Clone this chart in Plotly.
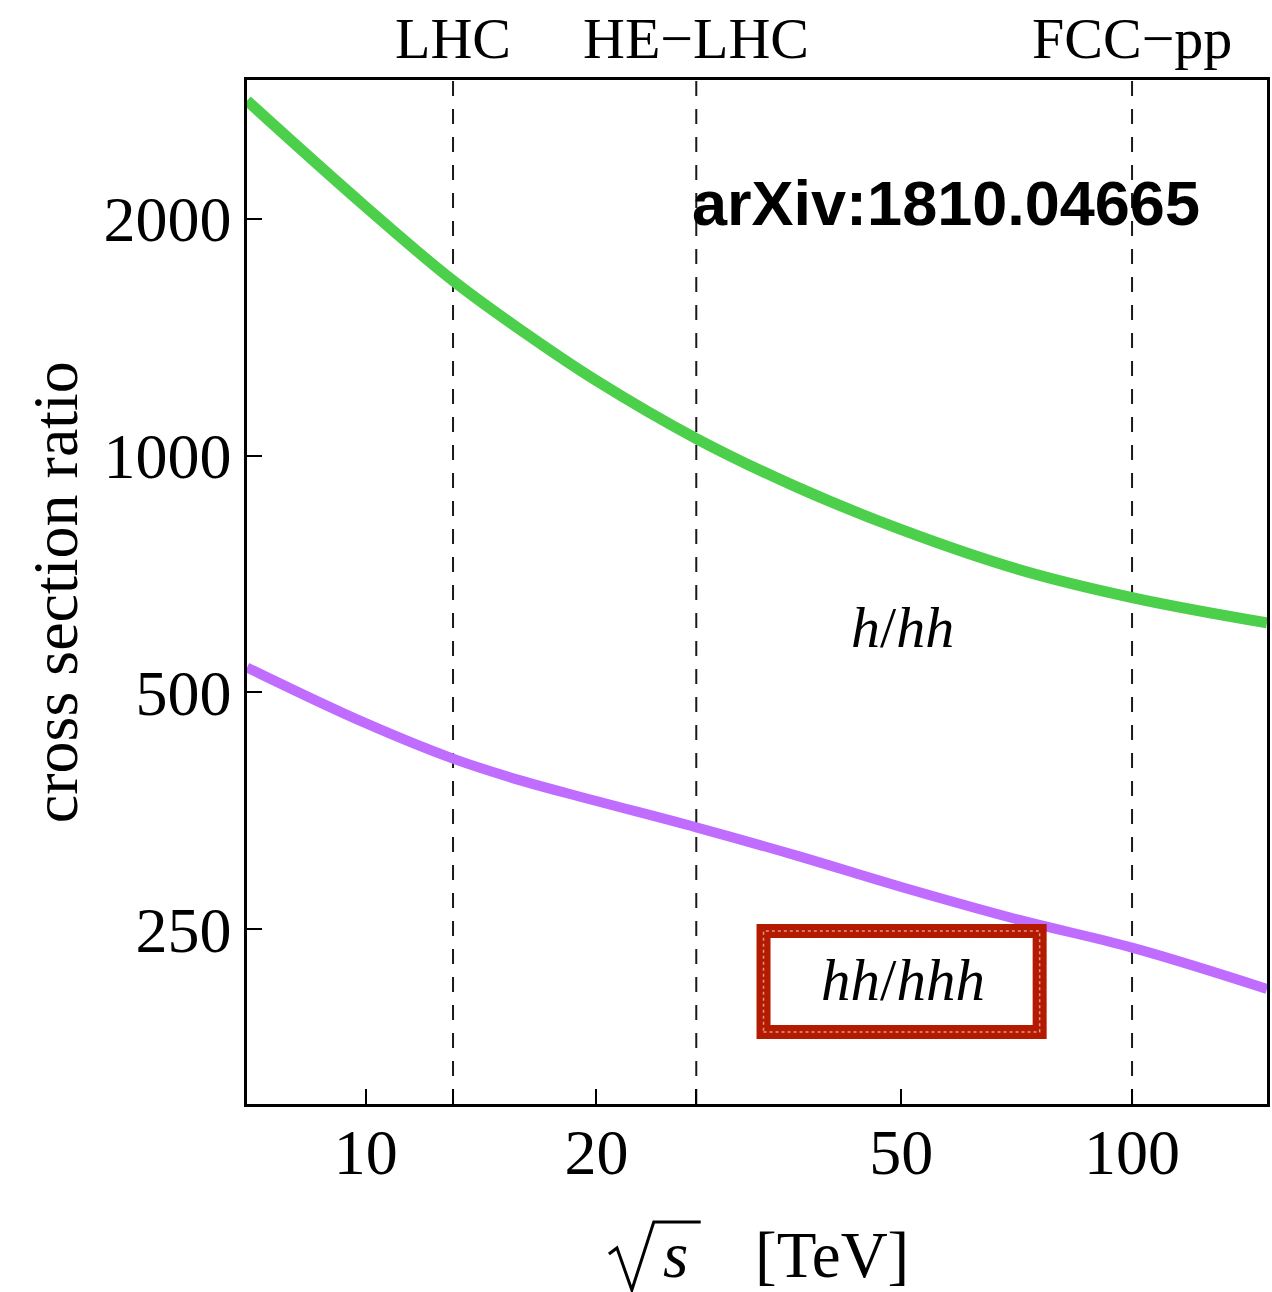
import numpy as np
import plotly.graph_objects as go

# data
energy_tev = [7, 10, 13, 16, 20, 27, 36.6, 50, 71.3, 100, 150]
ratio_h_hh = [2824, 2070, 1668, 1440, 1245, 1051, 911, 805, 716, 660, 613]
ratio_hh_hhh = [538, 457, 412, 386, 364, 337, 310, 283, 257, 237, 210]

colliders = ["LHC", "HE\u2212LHC", "FCC\u2212pp"]
collider_energy = [13, 27, 100]

x_tickvals = [10, 13, 20, 27, 50, 100]
x_ticktext = ["10", "", "20", "", "50", "100"]
y_tickvals = [250, 500, 1000, 2000]
y_ticktext = ["250", "500", "1000", "2000"]

x_range = [7, 150]
y_range = [150, 3000]

SERIF = "Liberation Serif"
SANS = "Liberation Sans"

fig = go.Figure()
fig.add_trace(go.Scatter(x=energy_tev, y=ratio_h_hh, mode="lines",
                         line=dict(color="#4ccf4a", width=11, shape="spline", smoothing=1.1),
                         showlegend=False, hoverinfo="skip"))
fig.add_trace(go.Scatter(x=energy_tev, y=ratio_hh_hhh, mode="lines",
                         line=dict(color="#bf6cff", width=10, shape="spline", smoothing=1.1),
                         showlegend=False, hoverinfo="skip"))

# vertical dashed collider lines + labels
for name, e in zip(colliders, collider_energy):
    fig.add_shape(type="line", xref="x", yref="paper", x0=e, x1=e, y0=0, y1=1,
                  line=dict(color="#1a1a1a", width=2, dash="15px,13px"), layer="below")
    fig.add_annotation(x=np.log10(e), xref="x", y=1.041, yref="paper", text=name,
                       showarrow=False, font=dict(family=SERIF, size=58, color="black"),
                       xanchor="center", yanchor="middle")

# rough red box around hh/hhh label
fig.add_shape(type="rect", xref="paper", yref="paper",
              x0=0.5064, x1=0.7771, y0=0.0703, y1=0.169,
              line=dict(color="#b31a00", width=14))
fig.add_shape(type="rect", xref="paper", yref="paper",
              x0=0.5064, x1=0.7771, y0=0.0703, y1=0.169,
              line=dict(color="rgba(255,255,255,0.55)", width=1.5, dash="dot"))

fig.add_annotation(x=0.643, y=0.465, xref="paper", yref="paper", text="<i>h</i>/<i>hh</i>",
                   showarrow=False, xanchor="center", yanchor="middle",
                   font=dict(family=SERIF, size=58, color="black"))
fig.add_annotation(x=0.643, y=0.121, xref="paper", yref="paper", text="<i>hh</i>/<i>hhh</i>",
                   showarrow=False, xanchor="center", yanchor="middle",
                   font=dict(family=SERIF, size=59, color="black"))
fig.add_annotation(x=0.685, y=0.880, xref="paper", yref="paper", text="<b>arXiv:1810.04665</b>",
                   showarrow=False, xanchor="center", yanchor="middle",
                   font=dict(family=SANS, size=63, color="black"))

# y axis title
fig.add_annotation(x=-0.188, y=0.5, xref="paper", yref="paper", text="cross section ratio",
                   textangle=-90, showarrow=False, xanchor="center", yanchor="middle",
                   font=dict(family=SERIF, size=64, color="black"))
# x axis title: TeX-style radical sign, then s and [TeV]
fig.add_shape(type="path", xref="paper", yref="paper",
              path="M 0.3548,-0.1465 L 0.3627,-0.1406 L 0.3773,-0.1816 L 0.3988,-0.1152 L 0.4448,-0.1152",
              line=dict(color="black", width=3))
fig.add_annotation(x=0.4203, y=-0.1475, xref="paper", yref="paper", text="<i>s</i>",
                   showarrow=False, xanchor="center", yanchor="middle",
                   font=dict(family=SERIF, size=65, color="black"))
fig.add_annotation(x=0.5733, y=-0.1475, xref="paper", yref="paper", text="[TeV]",
                   showarrow=False, xanchor="center", yanchor="middle",
                   font=dict(family=SERIF, size=65, color="black"))

fig.update_layout(
    width=1272, height=1292,
    margin=dict(l=247, r=2, t=80, b=188),
    paper_bgcolor="white", plot_bgcolor="white",
)
fig.update_xaxes(type="log", range=[np.log10(x_range[0]), np.log10(x_range[1])],
                 tickvals=x_tickvals, ticktext=x_ticktext,
                 ticks="inside", ticklen=15, tickwidth=2, tickcolor="black",
                 showline=True, linecolor="black", linewidth=2.5, mirror=True,
                 showgrid=False, zeroline=False,
                 tickfont=dict(family=SERIF, size=64, color="black"),
                 ticklabelstandoff=-10)
fig.update_yaxes(type="log", range=[np.log10(y_range[0]), np.log10(y_range[1])],
                 tickvals=y_tickvals, ticktext=y_ticktext,
                 ticks="inside", ticklen=15, tickwidth=2, tickcolor="black",
                 showline=True, linecolor="black", linewidth=2.5, mirror=True,
                 showgrid=False, zeroline=False,
                 tickfont=dict(family=SERIF, size=64, color="black"),
                 ticklabelstandoff=0)

fig.write_html("out.html", config={"displayModeBar": False},
               post_script="document.body.style.margin='0';document.body.style.overflow='hidden';")
